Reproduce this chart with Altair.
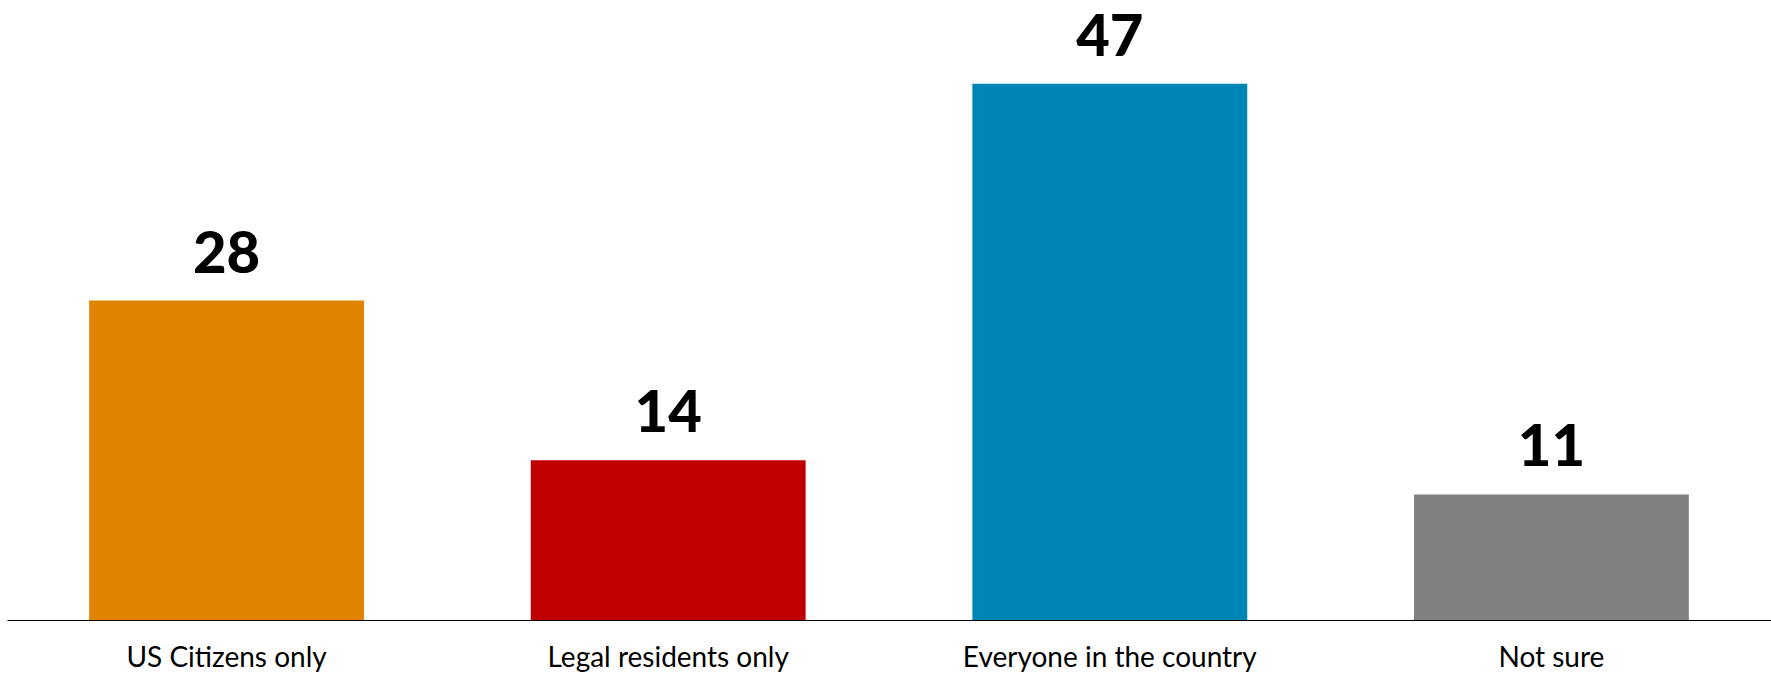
import altair as alt
import pandas as pd

categories = ["US Citizens only", "Legal residents only", "Everyone in the country", "Not sure"]
values = [28, 14, 47, 11]
colors = ["#DF8300", "#C00000", "#0086B6", "#808080"]

df = pd.DataFrame({"cat": categories, "val": values, "color": colors})

x = alt.X("cat:N", sort=categories, title=None,
          scale=alt.Scale(paddingInner=0.3776, paddingOuter=0.186),
          axis=alt.Axis(labelAngle=0, domainColor="black", domainWidth=1.2, ticks=False,
                        labelFont="Lato", labelFontSize=28, labelColor="black",
                        labelPadding=24, labelBaseline="top", labelLimit=0))
y = alt.Y("val:Q", title=None, scale=alt.Scale(domain=[0, 54.34], nice=False, zero=True), axis=None)

bars = alt.Chart(df).mark_bar().encode(
    x=x, y=y, color=alt.Color("color:N", scale=None)
)
labels = alt.Chart(df).mark_text(
    font="Lato", fontSize=58, fontWeight=900, color="black",
    baseline="alphabetic", dy=-28
).encode(x=x, y=y, text=alt.Text("val:Q"))

chart = (bars + labels).properties(
    width=1764, height=620,
    autosize=alt.AutoSizeParams(type="none"),
    padding={"left": 7, "top": 0, "right": 0, "bottom": 58},
    background="white",
).configure_view(stroke=None, strokeWidth=0)

chart.save("out.html", embed_options={"renderer": "svg", "actions": False})
